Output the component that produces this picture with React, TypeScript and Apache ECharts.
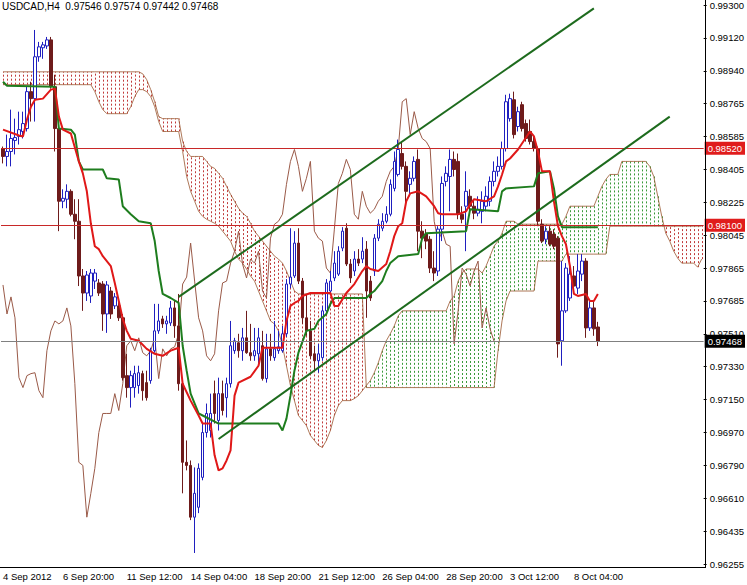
import React, { useEffect, useRef } from 'react';
import * as echarts from 'echarts';

const titleText = 'USDCAD,H4  0.97546 0.97574 0.97442 0.97468';

const opens = [
  0.98518, 0.98475, 0.98502, 0.98562, 0.98584, 0.98611, 0.98627, 0.98828, 0.9879, 0.99018,
  0.99067, 0.99077, 0.9911, 0.98855, 0.98627, 0.98231, 0.98242, 0.98285, 0.9816, 0.98122,
  0.97824, 0.97731, 0.97715, 0.97796, 0.97786, 0.9778, 0.97617, 0.97742, 0.97661, 0.97661,
  0.97596, 0.97281, 0.97216, 0.97216, 0.97227, 0.97292, 0.97243, 0.97254, 0.97417, 0.97525,
  0.9759, 0.97563, 0.97568, 0.9765, 0.97552, 0.97237, 0.96809, 0.96792, 0.9651, 0.96564,
  0.96727, 0.96971, 0.96982, 0.97183, 0.97037, 0.97183, 0.97161, 0.97237, 0.97417, 0.9746,
  0.97417, 0.97487, 0.97406, 0.97389, 0.974, 0.97444, 0.97265, 0.97427, 0.97379, 0.97417,
  0.97417, 0.97509, 0.9778, 0.97824, 0.98003, 0.97796, 0.97596, 0.97525, 0.974, 0.97362,
  0.97379, 0.97634, 0.97742, 0.97813, 0.97834, 0.97976, 0.98084, 0.97889, 0.97851, 0.97916,
  0.97916, 0.9797, 0.97796, 0.97851, 0.9803, 0.98084, 0.98122, 0.9816, 0.98301, 0.98377,
  0.98491, 0.98421, 0.98323, 0.98356, 0.98459, 0.98068, 0.98052, 0.98024, 0.97867, 0.97851,
  0.98079, 0.98339, 0.98366, 0.98459, 0.98448, 0.9816, 0.98204, 0.98258, 0.98204, 0.98166,
  0.98176, 0.98204, 0.98231, 0.98339, 0.98394, 0.98421, 0.98518, 0.98681, 0.98784, 0.98638,
  0.98757, 0.98654, 0.98611, 0.98556, 0.98518, 0.98106, 0.98024, 0.98068, 0.98052, 0.9803,
  0.97471, 0.97634, 0.97704, 0.97824, 0.97758, 0.97834, 0.97905, 0.97541, 0.9765, 0.97546,
];
const highs = [
  0.98529, 0.98594, 0.9873, 0.98681, 0.98719, 0.98719, 0.98855, 0.98882, 0.99164, 0.99099,
  0.99099, 0.99126, 0.99126, 0.9892, 0.98638, 0.98296, 0.98323, 0.98296, 0.98242, 0.98242,
  0.97862, 0.97851, 0.97862, 0.97862, 0.97807, 0.97796, 0.97796, 0.97764, 0.97731, 0.97699,
  0.97617, 0.974, 0.97308, 0.97335, 0.97335, 0.97308, 0.97308, 0.97433, 0.97672, 0.97672,
  0.97607, 0.97607, 0.97688, 0.97688, 0.97726, 0.97254, 0.96928, 0.96819, 0.96781, 0.96803,
  0.9702, 0.97129, 0.97183, 0.97254, 0.9727, 0.97254, 0.9727, 0.97579, 0.97487, 0.97509,
  0.97541, 0.97634, 0.97563, 0.97541, 0.97541, 0.97525, 0.97509, 0.97509, 0.97579, 0.97525,
  0.97552, 0.97807, 0.98084, 0.98068, 0.98084, 0.97813, 0.97726, 0.97579, 0.97444, 0.97454,
  0.97661, 0.97807, 0.97851, 0.97959, 0.97986, 0.9809, 0.98111, 0.97916, 0.97959, 0.9797,
  0.98035, 0.98014, 0.97824, 0.98052, 0.98133, 0.98166, 0.98204, 0.9835, 0.98502, 0.98567,
  0.98556, 0.98448, 0.98394, 0.98475, 0.98513, 0.98122, 0.98079, 0.98041, 0.97959, 0.98095,
  0.98366, 0.98421, 0.98513, 0.98502, 0.98491, 0.98204, 0.98394, 0.98296, 0.98242, 0.98258,
  0.98285, 0.98312, 0.98366, 0.98448, 0.98475, 0.98556, 0.98811, 0.98817, 0.98828, 0.98746,
  0.98773, 0.98676, 0.98676, 0.98584, 0.98529, 0.98133, 0.98095, 0.98095, 0.98079, 0.98041,
  0.97905, 0.97894, 0.97932, 0.97878, 0.97943, 0.97943, 0.97921, 0.97699, 0.97688, 0.97574,
];
const lows = [
  0.98437, 0.98421, 0.98421, 0.98486, 0.9854, 0.98573, 0.98611, 0.98665, 0.98665, 0.98991,
  0.99007, 0.99061, 0.98844, 0.98502, 0.98068, 0.98193, 0.98193, 0.98149, 0.98024, 0.97769,
  0.97634, 0.97688, 0.97677, 0.97753, 0.97715, 0.97525, 0.97514, 0.9759, 0.97644, 0.97579,
  0.97254, 0.97161, 0.97107, 0.97161, 0.97183, 0.97145, 0.97145, 0.97237, 0.97406, 0.97509,
  0.97541, 0.97509, 0.97552, 0.97487, 0.97199, 0.9664, 0.96765, 0.96494, 0.96315, 0.96532,
  0.96711, 0.96944, 0.96944, 0.9702, 0.96982, 0.97064, 0.97053, 0.97216, 0.974, 0.97379,
  0.97362, 0.974, 0.97362, 0.97362, 0.97346, 0.97254, 0.97243, 0.97362, 0.97362, 0.974,
  0.97406, 0.97492, 0.97758, 0.97813, 0.9778, 0.97563, 0.97498, 0.97373, 0.97308, 0.97297,
  0.97362, 0.97623, 0.97731, 0.97796, 0.97824, 0.97959, 0.97878, 0.97786, 0.97824, 0.97878,
  0.97894, 0.97596, 0.97688, 0.97824, 0.98014, 0.98068, 0.98111, 0.98149, 0.98285, 0.98366,
  0.98404, 0.98204, 0.98258, 0.98339, 0.97959, 0.97921, 0.9797, 0.9784, 0.97796, 0.97824,
  0.98014, 0.98312, 0.98176, 0.98366, 0.98133, 0.98111, 0.97959, 0.98176, 0.98133, 0.98149,
  0.98111, 0.98176, 0.98204, 0.98312, 0.98366, 0.98404, 0.98502, 0.98665, 0.98573, 0.98611,
  0.98611, 0.98556, 0.9854, 0.98502, 0.98095, 0.98003, 0.97997, 0.97986, 0.9797, 0.97379,
  0.97335, 0.97623, 0.97688, 0.97742, 0.97726, 0.97796, 0.97487, 0.97525, 0.97498, 0.97442,
];
const closes = [
  0.98475, 0.98502, 0.98573, 0.98578, 0.98621, 0.98654, 0.98828, 0.9879, 0.99018, 0.99072,
  0.99083, 0.9911, 0.98855, 0.98627, 0.98231, 0.98247, 0.98285, 0.9816, 0.98122, 0.97824,
  0.97731, 0.97829, 0.9784, 0.9784, 0.97731, 0.97617, 0.97775, 0.97617, 0.9771, 0.97596,
  0.9727, 0.97216, 0.97281, 0.97292, 0.97297, 0.97199, 0.97161, 0.97417, 0.97525, 0.97579,
  0.97563, 0.97579, 0.9765, 0.97552, 0.97237, 0.96809, 0.96792, 0.9651, 0.9664, 0.96776,
  0.96971, 0.97075, 0.97075, 0.97075, 0.97183, 0.97091, 0.97237, 0.97444, 0.97471, 0.97417,
  0.97487, 0.97406, 0.97389, 0.97417, 0.97487, 0.97265, 0.97427, 0.97389, 0.97427, 0.97438,
  0.97509, 0.9778, 0.97818, 0.98003, 0.97796, 0.97596, 0.97525, 0.97389, 0.97362, 0.974,
  0.97634, 0.97786, 0.97796, 0.97894, 0.97959, 0.98068, 0.97889, 0.97813, 0.97916, 0.97894,
  0.97959, 0.97742, 0.97704, 0.9803, 0.98106, 0.98122, 0.9816, 0.98323, 0.98448, 0.98513,
  0.98421, 0.98285, 0.98356, 0.98448, 0.98068, 0.9803, 0.98014, 0.97867, 0.9784, 0.98079,
  0.98328, 0.98383, 0.98459, 0.98404, 0.9816, 0.98133, 0.98285, 0.98204, 0.98166, 0.98187,
  0.98231, 0.98258, 0.98339, 0.98394, 0.98421, 0.98518, 0.98773, 0.9879, 0.98594, 0.98719,
  0.98627, 0.98573, 0.98556, 0.98518, 0.98122, 0.98014, 0.98068, 0.97997, 0.97986, 0.97454,
  0.97634, 0.97867, 0.97834, 0.97769, 0.97851, 0.97905, 0.97541, 0.9765, 0.97536, 0.97468,
];

// Tenkan-sen vertices [bar index, price]
const tenkan = [
  [0, 0.98621], [4, 0.98589], [5, 0.98584], [6, 0.98676], [7, 0.98746], [8, 0.98784], [10, 0.9879],
  [12, 0.98839], [13, 0.98844], [14, 0.98692], [15, 0.98621], [17, 0.986], [19, 0.98448], [20, 0.98383],
  [21, 0.98285], [22, 0.98111], [23, 0.97986], [24, 0.9797], [25, 0.97932], [27, 0.97878], [28, 0.97786],
  [29, 0.97688], [30, 0.9759], [31, 0.97525], [32, 0.97482], [34, 0.97471], [36, 0.97427], [38, 0.974],
  [40, 0.97389], [42, 0.97417], [44, 0.97433], [45, 0.97237], [47, 0.97145], [49, 0.97064], [50, 0.9702],
  [52, 0.9702], [53, 0.96847], [54, 0.96765], [55, 0.96776], [56, 0.96819], [57, 0.96874], [58, 0.97172],
  [59, 0.97243], [62, 0.97275], [64, 0.97335], [65, 0.97433], [70, 0.97433], [71, 0.97579], [72, 0.97661],
  [73, 0.97677], [74, 0.97688], [75, 0.97715], [77, 0.97731], [82, 0.97731], [83, 0.97661], [84, 0.97661],
  [86, 0.97731], [88, 0.9778], [90, 0.97851], [91, 0.97878], [92, 0.97862], [94, 0.97851], [96, 0.97889],
  [97, 0.97959], [98, 0.98041], [99, 0.98095], [100, 0.98111], [101, 0.98231], [102, 0.98274], [104, 0.98285],
  [106, 0.98258], [108, 0.98204], [109, 0.98166], [110, 0.9816], [114, 0.9816], [116, 0.98176], [117, 0.98214],
  [118, 0.98242], [121, 0.98231], [123, 0.98258], [124, 0.98312], [125, 0.98377], [126, 0.98448], [127, 0.98464],
  [129, 0.98513], [131, 0.98578], [132, 0.98611], [133, 0.98584], [134, 0.98502], [135, 0.98394], [137, 0.98394],
  [138, 0.98231], [139, 0.98095], [140, 0.98041], [141, 0.97997], [142, 0.97878], [143, 0.97726], [144, 0.97715],
  [146, 0.97726], [147, 0.97688], [148, 0.97688], [149, 0.97726],
];

// Kijun-sen vertices [bar index, price]
const kijun = [
  [0, 0.98882], [1, 0.9886], [13, 0.98855], [14, 0.98627], [17, 0.98621], [18, 0.98594], [19, 0.98448],
  [20, 0.98404], [25, 0.98404], [26, 0.98356], [29, 0.9835], [30, 0.98204], [32, 0.9816], [34, 0.98122],
  [37, 0.98111], [38, 0.98014], [39, 0.97851], [40, 0.97726], [42, 0.97704], [44, 0.97677], [45, 0.97444],
  [46, 0.97308], [47, 0.97183], [49, 0.97075], [50, 0.97064], [54, 0.9702], [69, 0.9702], [70, 0.96982],
  [71, 0.97047], [72, 0.97172], [73, 0.97308], [74, 0.97406], [76, 0.97525], [78, 0.97536], [79, 0.97579],
  [81, 0.97617], [82, 0.97672], [83, 0.97704], [91, 0.97704], [92, 0.97726], [93, 0.97742], [95, 0.97796],
  [96, 0.97851], [97, 0.97894], [99, 0.97932], [104, 0.97943], [105, 0.9803], [106, 0.98057], [116, 0.98068],
  [117, 0.98187], [124, 0.98176], [125, 0.98285], [126, 0.98301], [133, 0.98312], [134, 0.98383], [137, 0.98394],
  [138, 0.98301], [139, 0.98149], [140, 0.9809], [149, 0.9809],
];

// Senkou span A and B, one value per slot (26 slots run past the last bar)
const spanA = [
  0.98866, 0.98866, 0.98866, 0.98866, 0.98866, 0.98866, 0.98866, 0.98866, 0.98866, 0.98866,
  0.98866, 0.98866, 0.98866, 0.98866, 0.98866, 0.98866, 0.98866, 0.98866, 0.98866, 0.98866,
  0.98866, 0.98866, 0.98866, 0.98828, 0.98773, 0.9873, 0.98708, 0.98708, 0.98708, 0.98708,
  0.98708, 0.98708, 0.98746, 0.98801, 0.98839, 0.98839, 0.98828, 0.98801, 0.98746, 0.98665,
  0.98611, 0.98611, 0.98611, 0.98611, 0.98611, 0.98502, 0.98366, 0.98285, 0.98231, 0.98176,
  0.98149, 0.98133, 0.98122, 0.98111, 0.98095, 0.98068, 0.98041, 0.98014, 0.97959, 0.97916,
  0.97894, 0.97862, 0.97824, 0.97796, 0.97742, 0.97688, 0.97634, 0.97579, 0.97563, 0.97525,
  0.97444, 0.97335, 0.97227, 0.97145, 0.97064, 0.97037, 0.97009, 0.96955, 0.96928, 0.96901,
  0.9689, 0.96928, 0.96982, 0.97064, 0.97118, 0.97145, 0.97145, 0.97145, 0.97156, 0.97172,
  0.97199, 0.97227, 0.97254, 0.97297, 0.97351, 0.97417, 0.97471, 0.97509, 0.97552, 0.97607,
  0.97634, 0.97634, 0.97634, 0.97634, 0.97634, 0.97634, 0.97634, 0.97634, 0.97634, 0.97634,
  0.97634, 0.97634, 0.97688, 0.97715, 0.97796, 0.9784, 0.97862, 0.97862, 0.97862, 0.97862,
  0.9784, 0.97878, 0.97932, 0.97986, 0.98014, 0.98057, 0.98122, 0.98122, 0.98122, 0.98106,
  0.98106, 0.98106, 0.98106, 0.98106, 0.98106, 0.98106, 0.98106, 0.98106, 0.98106, 0.98106,
  0.98106, 0.98149, 0.98204, 0.98204, 0.98204, 0.98204, 0.98204, 0.98204, 0.98204, 0.98258,
  0.98312, 0.9835, 0.98377, 0.98377, 0.98377, 0.98448, 0.98448, 0.98448, 0.98448, 0.98448,
  0.98448, 0.98448, 0.98421, 0.98366, 0.98258, 0.98149, 0.98057, 0.98014, 0.97959, 0.97921,
  0.97894, 0.97894, 0.97894, 0.97894, 0.97872, 0.97916,
];
const spanB = [
  0.98936, 0.98936, 0.98936, 0.98936, 0.98936, 0.98936, 0.98936, 0.98936, 0.98936, 0.98936,
  0.98936, 0.98936, 0.98936, 0.98936, 0.98936, 0.98936, 0.98936, 0.98936, 0.98936, 0.98936,
  0.98936, 0.98936, 0.98936, 0.98936, 0.98936, 0.98936, 0.98936, 0.98936, 0.98936, 0.98936,
  0.98936, 0.98936, 0.98936, 0.98936, 0.98936, 0.98925, 0.98893, 0.98839, 0.98773, 0.98692,
  0.98681, 0.98681, 0.98681, 0.98681, 0.98681, 0.98556, 0.98502, 0.98475, 0.98475, 0.98475,
  0.98475, 0.98448, 0.98421, 0.9841, 0.98383, 0.98356, 0.98312, 0.98269, 0.98231, 0.98193,
  0.98166, 0.98149, 0.98111, 0.98068, 0.98041, 0.98014, 0.97986, 0.97959, 0.97932, 0.97916,
  0.97894, 0.97851, 0.97796, 0.97742, 0.97726, 0.97726, 0.97726, 0.97726, 0.97726, 0.97726,
  0.97726, 0.97726, 0.97726, 0.97726, 0.97726, 0.97726, 0.97726, 0.97726, 0.97726, 0.97726,
  0.97726, 0.97216, 0.97216, 0.97216, 0.97216, 0.97216, 0.97216, 0.97216, 0.97216, 0.97216,
  0.97216, 0.97216, 0.97216, 0.97216, 0.97216, 0.97216, 0.97216, 0.97216, 0.97216, 0.97216,
  0.97216, 0.97216, 0.97216, 0.97216, 0.97216, 0.97216, 0.97216, 0.97216, 0.97216, 0.97216,
  0.97216, 0.97216, 0.97216, 0.97216, 0.97417, 0.97579, 0.97688, 0.97742, 0.97742, 0.97742,
  0.97742, 0.97742, 0.97742, 0.97742, 0.97905, 0.97905, 0.97905, 0.97905, 0.97905, 0.97905,
  0.97905, 0.97943, 0.97943, 0.97943, 0.97943, 0.97943, 0.97943, 0.97943, 0.97943, 0.97943,
  0.97943, 0.97943, 0.98095, 0.98095, 0.98095, 0.98095, 0.98095, 0.98095, 0.98095, 0.98095,
  0.98095, 0.98095, 0.98095, 0.98095, 0.98095, 0.98095, 0.98095, 0.98095, 0.98095, 0.98095,
  0.98095, 0.98095, 0.98095, 0.98095, 0.98095, 0.98095,
];

const channelUpper = [[44, 0.9771], [148, 0.99282]];
const channelLower = [[54, 0.96936], [167, 0.98692]];
const levelLines = [0.9852, 0.981];
const bidPrice = 0.97468;

const yTickLabels = [
  '0.96255', '0.96435', '0.96610', '0.96790', '0.96970', '0.97150', '0.97330', '0.97510', '0.97685',
  '0.97865', '0.98045', '0.98225', '0.98405', '0.98585', '0.98765', '0.98940', '0.99120', '0.99300',
];
const xTickIndex = [0, 15, 31, 47, 63, 79, 95, 111, 127, 143];
const xTickText = [
  '4 Sep 2012', '6 Sep 20:00', '11 Sep 12:00', '14 Sep 04:00', '18 Sep 20:00',
  '21 Sep 12:00', '26 Sep 04:00', '28 Sep 20:00', '3 Oct 12:00', '8 Oct 04:00',
];

const SLOTS = 176;
const Y_MIN = 0.96255;
const Y_MAX = 0.993;
const CHIKOU_SHIFT = 26;
const FONT = '"Liberation Sans", Arial, sans-serif';

export default function App() {
  const ref = useRef<HTMLDivElement>(null);

  useEffect(() => {
    if (!ref.current) return;
    const chart = echarts.init(ref.current, undefined, { renderer: 'svg' });
    const step = (Y_MAX - Y_MIN) / (yTickLabels.length - 1);
    const cats = Array.from({ length: SLOTS }, (_, i) => String(i));
    const candles = opens.map((o, i) => [o, closes[i], lows[i], highs[i]]);
    const chikou = closes.slice(CHIKOU_SHIFT).map((c, i) => [i, c]);
    const cloud = spanA.map((a, i) => [i, a, spanB[i]]);
    const labelMap: Record<number, string> = {};
    xTickIndex.forEach((idx, k) => { labelMap[idx] = xTickText[k]; });

    const lineBase = {
      type: 'line',
      symbol: 'none',
      showSymbol: false,
      silent: true,
      animation: false,
    };

    const mlLabel = (bg: string) => ({
      show: true,
      position: 'end',
      formatter: (p: any) => Number(p.value).toFixed(5),
      color: '#ffffff',
      backgroundColor: bg,
      fontSize: 9.5,
      fontFamily: FONT,
      padding: [2, 3, 1, 3],
      distance: 1,
    });

    chart.setOption({
      animation: false,
      backgroundColor: '#ffffff',
      title: {
        text: titleText,
        left: 2,
        top: 1,
        padding: 0,
        textStyle: { fontSize: 10, fontWeight: 'normal', fontFamily: FONT, color: '#000000' },
      },
      grid: { left: 1, right: 42, top: 3, bottom: 21 },
      xAxis: {
        type: 'category',
        data: cats,
        boundaryGap: true,
        offset: 4,
        axisLine: { show: false },
        axisTick: { show: false },
        splitLine: { show: false },
        axisLabel: {
          interval: (i: number) => labelMap[i] !== undefined,
          formatter: (_v: string, i: number) => labelMap[i] || '',
          align: 'left',
          margin: 3,
          fontSize: 9.5,
          fontFamily: FONT,
          color: '#000000',
        },
      },
      yAxis: {
        type: 'value',
        position: 'right',
        min: Y_MIN,
        max: Y_MAX,
        interval: step,
        scale: true,
        splitLine: { show: false },
        axisLine: { show: false },
        axisTick: { show: true, length: 3, lineStyle: { color: '#000000' } },
        axisLabel: {
          margin: 6,
          fontSize: 9.5,
          fontFamily: FONT,
          color: '#000000',
          formatter: (v: number) => {
            const k = Math.round((v - Y_MIN) / step);
            return yTickLabels[k] || '';
          },
        },
      },
      graphic: [
        { type: 'line', z: 100, shape: { x1: 705.5, y1: 0, x2: 705.5, y2: 568 }, style: { stroke: '#000000', lineWidth: 1 } },
        { type: 'line', z: 100, shape: { x1: 0, y1: 567.5, x2: 706, y2: 567.5 }, style: { stroke: '#000000', lineWidth: 1 } },
      ],
      series: [
        {
          type: 'custom',
          z: 1,
          silent: true,
          data: cloud,
          encode: { x: 0, y: [1, 2] },
          renderItem: (_params: any, api: any) => {
            const i = api.value(0);
            const a = api.value(1);
            const b = api.value(2);
            const pa = api.coord([i, a]);
            const pb = api.coord([i, b]);
            const x = Math.round(pa[0]) + 0.5;
            return {
              type: 'line',
              shape: { x1: x, y1: pa[1], x2: x, y2: pb[1] },
              style: { stroke: b > a ? '#c03a3a' : '#3a9a3a', lineWidth: 1, lineDash: [2, 2] },
            };
          },
        },
        { ...lineBase, z: 1, data: spanA, lineStyle: { color: '#a0603c', width: 1, opacity: 0.85 } },
        { ...lineBase, z: 1, data: spanB, lineStyle: { color: '#a0603c', width: 1, opacity: 0.85 } },
        { ...lineBase, z: 2, data: chikou, lineStyle: { color: '#9a5a48', width: 1 } },
        {
          type: 'candlestick',
          z: 3,
          silent: true,
          barWidth: 3,
          data: candles,
          itemStyle: {
            color: '#ffffff',
            color0: '#6e1b1b',
            borderColor: '#1f1fbf',
            borderColor0: '#6e1b1b',
            borderWidth: 1,
          },
        },
        { ...lineBase, z: 4, data: kijun, lineStyle: { color: '#1e7d1e', width: 2 } },
        { ...lineBase, z: 4, data: tenkan, lineStyle: { color: '#e01818', width: 2 } },
        { ...lineBase, z: 5, data: channelUpper, lineStyle: { color: '#1d6b1d', width: 2 } },
        { ...lineBase, z: 5, data: channelLower, lineStyle: { color: '#1d6b1d', width: 2 } },
        {
          ...lineBase,
          z: 6,
          data: [],
          clip: false,
          markLine: {
            silent: true,
            symbol: ['none', 'none'],
            animation: false,
            precision: 5,
            data: [
              ...levelLines.map((v) => ({
                yAxis: v,
                lineStyle: { color: '#c82828', width: 1, type: 'solid' },
                label: mlLabel('#e01c1c'),
              })),
              {
                yAxis: bidPrice,
                lineStyle: { color: '#808080', width: 1, type: 'solid' },
                label: mlLabel('#000000'),
              },
            ],
          },
        },
      ],
    });

    return () => chart.dispose();
  }, []);

  return (
    <div
      ref={ref}
      style={{ position: 'fixed', left: 0, top: 0, width: 747, height: 585, background: '#ffffff' }}
    />
  );
}
